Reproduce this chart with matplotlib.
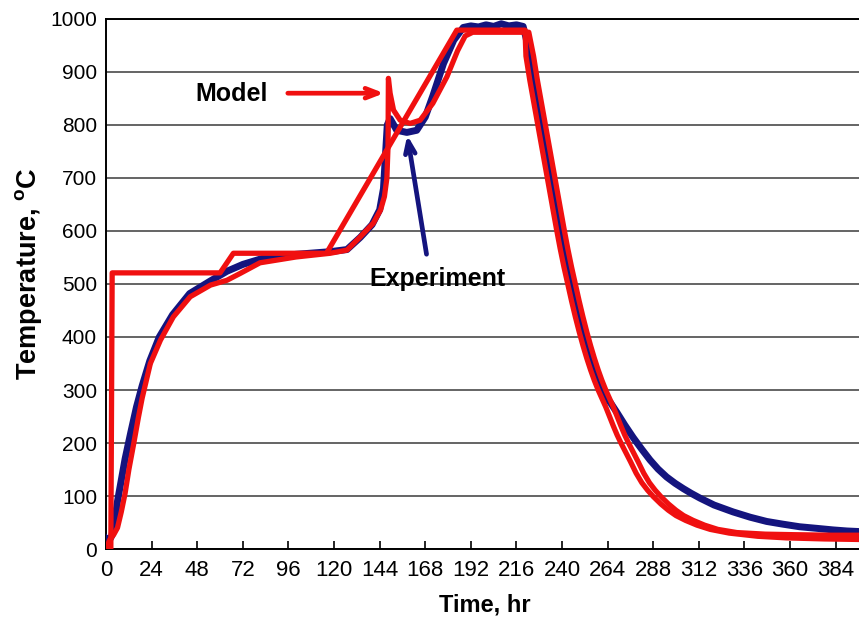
import numpy as np
import matplotlib
matplotlib.use("Agg")
import matplotlib.pyplot as plt

plt.rcParams["font.family"] = ["Liberation Sans", "DejaVu Sans"]
plt.rcParams["mathtext.fontset"] = "custom"
plt.rcParams["mathtext.rm"] = "Liberation Sans"
plt.rcParams["mathtext.bf"] = "Liberation Sans:bold"

RED = "#f01010"
NAVY = "#14147e"

# ---------- furnace (set) profile, hr / degC ----------
furnace_t = [2.5, 3.2, 60, 67, 116, 184.6, 220.5, 221, 223, 225, 227, 229,
             231, 233, 235, 237, 239, 241, 243, 245, 247, 249, 251, 253,
             255, 257, 259, 261, 263, 265, 267, 269, 271, 273, 276, 279,
             282, 285, 288, 292, 296, 300, 305, 311, 318, 328, 343, 358,
             378, 396]
furnace_T = [0, 521, 521, 558, 558, 979, 979, 930, 885, 845, 805, 765,
             725, 685, 645, 605, 567, 532, 500, 468, 438, 410, 384, 360,
             338, 318, 300, 284, 268, 250, 232, 215, 200, 186, 165, 143,
             125, 111, 99, 85, 73, 63, 54, 45, 37, 30, 24, 21,
             19, 18]

# ---------- model (sample temperature) ----------
model_t = [0.5, 2, 4, 6, 8, 10, 12, 14.5, 17, 19, 23.3, 28.6, 35.4, 44.3,
           55, 63.6, 70.6, 81, 100, 118, 126.8, 133.8, 140.7, 144.5, 146.5,
           147.8, 148.4, 148.6, 149.5, 151.3, 154.8, 160, 165.3, 172, 179.4,
           185, 189, 193, 222.5, 225, 227, 229, 231, 233, 235, 237, 239,
           241, 243, 245, 247, 249, 251, 253, 255, 257, 259, 261, 263, 265,
           267, 269, 271, 273, 275, 277, 280, 283, 286, 289, 292, 296, 300,
           304, 309, 315, 322, 332, 347, 362, 382, 396]
model_T = [5, 18, 27, 40, 70, 105, 150, 198, 248, 285, 350, 394, 438, 476,
           498, 507, 520, 540, 551, 558, 564, 589, 615, 640, 665,
           700, 760, 888, 860, 828, 809, 803, 809, 841, 891,
           940, 968, 975, 975, 930, 885, 845, 805, 765, 725, 685, 645,
           605, 567, 532, 500, 468, 438, 410, 384, 360, 338, 318, 300,
           284, 268, 250, 232, 215, 200, 186, 165, 143, 125, 111, 99, 85,
           73, 63, 54, 45, 37, 31, 28, 27, 26, 26]

# ---------- experiment ----------
exp_t = [0, 1.5, 3, 4.5, 6, 8, 10, 13, 16, 19, 23, 28, 35, 44, 55, 63.6,
         72, 83, 100, 118, 126.8, 133.8, 140, 144, 146, 147, 148, 149.5,
         153, 158.3, 163.5, 168, 172, 177.6, 183, 188, 192, 196, 200, 204,
         208, 212, 216, 219.5, 221, 223, 225, 227, 229, 231, 233, 235, 237,
         239, 241, 243, 245, 247, 249, 251, 253, 255, 257, 259, 261, 263,
         265.5, 268.8, 273, 277.5, 282, 286.3, 290.5, 295, 299.5, 303.8,
         308, 312.6, 320, 330, 339, 347.7, 356, 365, 374, 382.7, 390, 396]
exp_T = [20, 15, 25, 50, 90, 130, 170, 220, 268, 308, 355, 400, 442, 482,
         506, 524, 537, 549, 556, 561, 565, 588, 612, 640, 680, 740, 800,
         812, 790, 786, 790, 815, 855, 916, 960, 984, 987, 985, 989, 986,
         991, 987, 989, 986, 965, 930, 885, 845, 805, 765, 725, 685, 645,
         605, 567, 532, 500, 468, 438, 410, 384, 360, 338, 318, 300, 285,
         276, 258, 234, 210, 188, 168, 151, 136, 124, 114,
         105, 96, 83, 70, 60, 52, 47, 42, 39, 36, 34, 33]

fig = plt.figure(figsize=(8.59, 6.27), dpi=100)
ax = fig.add_axes([0.1235, 0.1244, 0.8765, 0.8453])

ax.plot(exp_t, exp_T, color=NAVY, lw=5.0, solid_joinstyle="round", zorder=3)
ax.plot(furnace_t, furnace_T, color=RED, lw=3.8, solid_joinstyle="round", zorder=4)
ax.plot(model_t, model_T, color=RED, lw=3.8, solid_joinstyle="round", zorder=4)

ax.set_xlim(0, 396.3)
ax.set_ylim(0, 1000)
ax.set_xticks(np.arange(0, 385, 24))
ax.set_yticks(np.arange(0, 1001, 100))
ax.yaxis.grid(True, color="#3a3a3a", lw=1.1)
ax.set_axisbelow(True)
ax.spines["right"].set_visible(False)
for s in ("left", "bottom", "top"):
    ax.spines[s].set_linewidth(1.4)
ax.tick_params(axis="x", direction="in", length=6, width=1.2, labelsize=16, pad=8)
ax.tick_params(axis="y", direction="in", length=0, labelsize=15, pad=6.5)

fig.text(485 / 859, 1 - 605 / 627, "Time, hr", fontsize=17, fontweight="bold",
         ha="center", va="center")
fig.text(29 / 859, 1 - 274 / 627, r"Temperature, $\mathbf{^o}$C", fontsize=19.5,
         fontweight="bold", rotation=90, ha="center", va="center")

# annotations
ax.annotate("", xy=(147.8, 860), xytext=(94.2, 860),
            arrowprops=dict(arrowstyle="->,head_length=0.9,head_width=0.35",
                            color=RED, lw=3.4))
ax.text(66, 858, "Model", fontsize=18, fontweight="bold", ha="center", va="center")
ax.annotate("", xy=(158.3, 786), xytext=(168.9, 551),
            arrowprops=dict(arrowstyle="->,head_length=0.9,head_width=0.35",
                            color=NAVY, lw=3.4))
ax.text(174.3, 509, "Experiment", fontsize=18, fontweight="bold", ha="center", va="center")

fig.savefig("out.png", dpi=100)
